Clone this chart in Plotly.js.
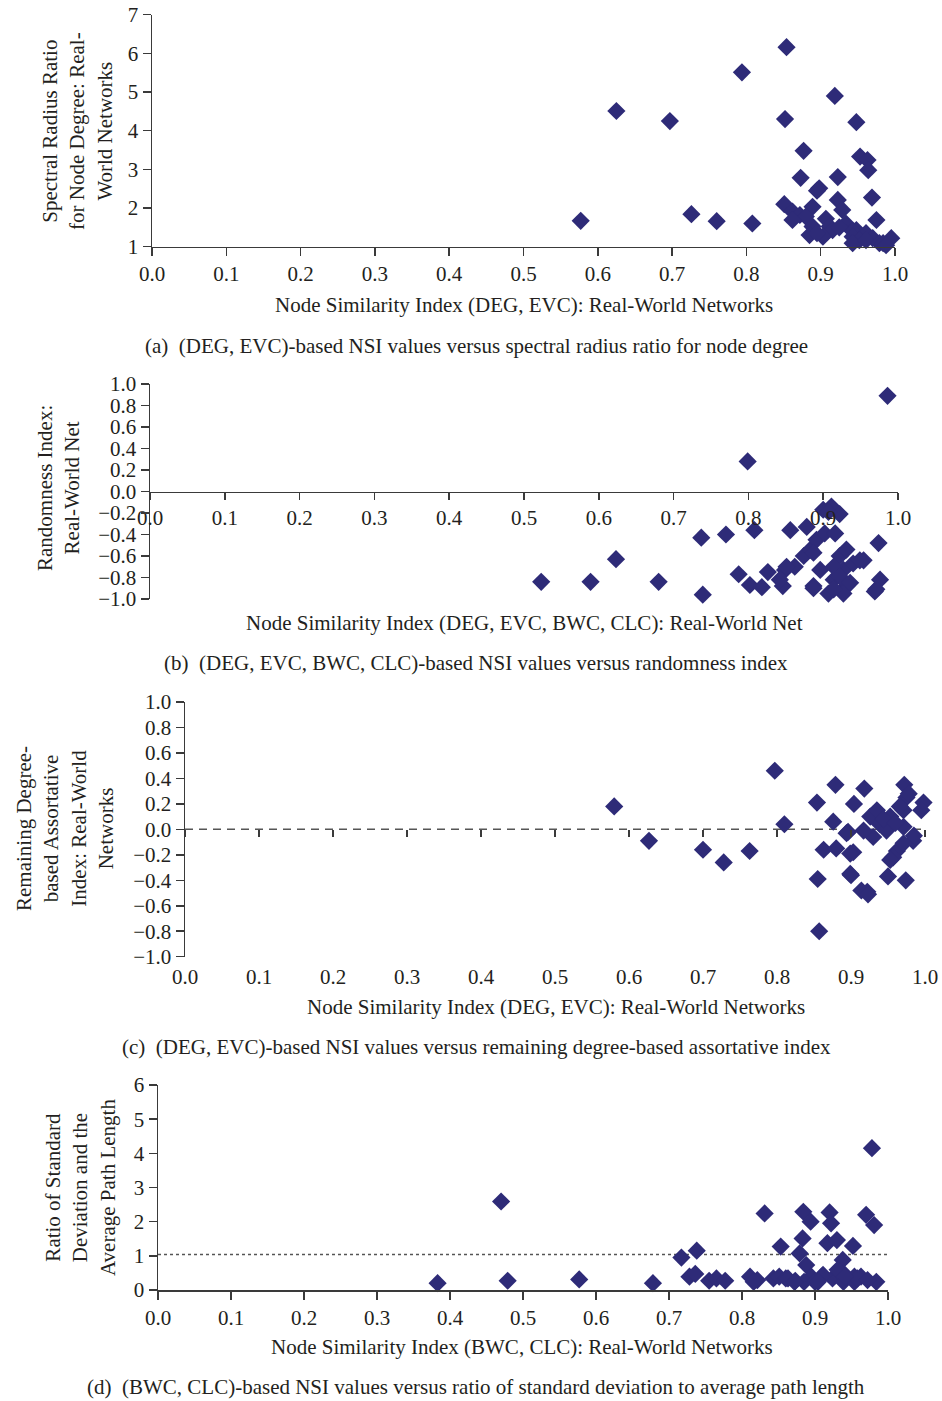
<!DOCTYPE html>
<html>
<head>
<meta charset="utf-8">
<script src="https://cdn.plot.ly/plotly-3.0.1.min.js"></script>
<style>html,body{margin:0;padding:0;background:#fff;}#chart{width:942px;height:1401px;}</style>
</head>
<body>
<div id="chart"></div>
<script>
// ---------- DATA ----------
// (a) NSI (DEG, EVC) vs spectral radius ratio for node degree
const nsiA = [0.577,0.625,0.697,0.726,0.760,0.808,0.794,0.854,0.852,0.919,0.948,0.877,0.953,0.963,0.964,0.873,0.923,0.898,0.895,0.969,0.923,0.851,0.889,0.929,0.862,0.872,0.880,0.907,0.975,0.934,0.862,0.889,0.912,0.916,0.948,0.943,0.885,0.903,0.943,0.961,0.952,0.970,0.943,0.961,0.979,0.984,0.995,0.988,0.895,0.925];
const spectralA = [1.67,4.51,4.25,1.84,1.66,1.60,5.51,6.16,4.30,4.90,4.22,3.48,3.33,3.24,2.98,2.78,2.80,2.51,2.45,2.27,2.21,2.10,2.03,1.95,1.91,1.82,1.78,1.72,1.69,1.60,1.69,1.52,1.52,1.43,1.43,1.40,1.30,1.26,1.26,1.35,1.17,1.22,1.09,1.17,1.09,1.09,1.22,1.04,1.35,1.50];

// (b) NSI (DEG, EVC, BWC, CLC) vs randomness index
const nsiB = [0.986,0.799,0.523,0.589,0.623,0.680,0.739,0.737,0.770,0.808,0.856,0.878,0.787,0.802,0.818,0.826,0.846,0.849,0.862,0.887,0.874,0.883,0.891,0.902,0.916,0.896,0.907,0.914,0.922,0.931,0.927,0.931,0.927,0.954,0.974,0.976,0.969,0.900,0.911,0.922,0.914,0.940,0.907,0.887,0.949,0.971,0.922,0.914,0.936,0.887,0.851,0.842];
const randomnessB = [0.89,0.28,-0.84,-0.84,-0.63,-0.84,-0.96,-0.43,-0.40,-0.36,-0.36,-0.33,-0.77,-0.87,-0.89,-0.75,-0.88,-0.73,-0.70,-0.88,-0.60,-0.54,-0.45,-0.39,-0.39,-0.73,-0.95,-0.82,-0.60,-0.54,-0.73,-0.88,-0.95,-0.64,-0.48,-0.82,-0.93,-0.17,-0.14,-0.21,-0.70,-0.67,-0.19,-0.57,-0.64,-0.91,-0.79,-0.91,-0.85,-0.90,-0.70,-0.82];

// (c) NSI (DEG, EVC) vs remaining degree-based assortative index
const nsiC = [0.580,0.627,0.700,0.728,0.763,0.797,0.810,0.854,0.879,0.918,0.904,0.876,0.972,0.998,0.995,0.975,0.978,0.855,0.857,0.900,0.914,0.922,0.950,0.974,0.863,0.880,0.903,0.894,0.926,0.939,0.953,0.971,0.971,0.930,0.962,0.984,0.971,0.957,0.917,0.948,0.935,0.966,0.896,0.899,0.953,0.899,0.923,0.944,0.960,0.985];
const assortC = [0.18,-0.09,-0.16,-0.26,-0.17,0.46,0.04,0.21,0.35,0.32,0.20,0.06,0.35,0.21,0.15,0.25,0.28,-0.39,-0.80,-0.36,-0.48,-0.49,-0.37,-0.40,-0.16,-0.15,-0.18,-0.03,0.10,0.04,0.10,0.15,0.02,-0.06,-0.17,-0.09,-0.11,-0.22,-0.01,-0.01,0.15,0.18,-0.02,-0.19,-0.24,-0.35,-0.51,0.08,0.05,-0.05];

// (d) NSI (BWC, CLC) vs ratio of std. deviation to average path length
const nsiD = [0.383,0.470,0.479,0.577,0.678,0.717,0.738,0.728,0.736,0.755,0.765,0.777,0.811,0.821,0.831,0.843,0.851,0.860,0.853,0.873,0.879,0.883,0.884,0.894,0.888,0.895,0.909,0.920,0.922,0.917,0.930,0.938,0.939,0.924,0.952,0.954,0.970,0.981,0.978,0.963,0.984,0.885,0.900,0.939,0.954,0.816,0.863,0.911,0.958,0.972,0.872,0.904,0.931,0.941];
const ratioD = [0.20,2.59,0.27,0.31,0.20,0.95,1.15,0.39,0.47,0.27,0.34,0.27,0.39,0.29,2.24,0.34,0.39,0.34,1.27,0.27,1.07,1.51,2.29,2.00,0.73,0.39,0.39,2.27,1.95,1.37,1.46,0.88,0.49,0.34,1.29,0.39,2.20,1.90,4.15,0.39,0.24,0.24,0.24,0.24,0.24,0.24,0.34,0.44,0.34,0.29,0.24,0.24,0.59,0.39];

const refLineC = 0;      // dashed reference line, panel (c)
const refLineD = 1.04;   // dotted reference line, panel (d)

const titlesY = [
  "Spectral Radius Ratio<br>for Node Degree: Real-<br>World Networks",
  "Randomness Index:<br>Real-World Net",
  "Remaining Degree-<br>based Assortative<br>Index: Real-World<br>Networks",
  "Ratio of Standard<br>Deviation and the<br>Average Path Length"
];
const titlesX = [
  "Node Similarity Index (DEG, EVC): Real-World Networks",
  "Node Similarity Index (DEG, EVC, BWC, CLC): Real-World Net",
  "Node Similarity Index (DEG, EVC): Real-World Networks",
  "Node Similarity Index (BWC, CLC): Real-World Networks"
];
const captions = [
  "(a)  (DEG, EVC)-based NSI values versus spectral radius ratio for node degree",
  "(b)  (DEG, EVC, BWC, CLC)-based NSI values versus randomness index",
  "(c)  (DEG, EVC)-based NSI values versus remaining degree-based assortative index",
  "(d)  (BWC, CLC)-based NSI values versus ratio of standard deviation to average path length"
];

// ---------- LAYOUT HELPERS ----------
const W = 942, H = 1401;
const fx = p => p / W;
const fy = p => 1 - p / H;
const FONT = 'Liberation Serif, Times New Roman, serif';
const FS = 21;
const TXT = '#231f20';
const AX = '#3a3a3a';
const MARK = '#2e2b78';

const marker = {symbol: 'diamond', size: 14, color: MARK, line: {width: 0}};
function tr(x, y, xa, ya) {
  return {type: 'scatter', mode: 'markers', x: x, y: y, xaxis: xa, yaxis: ya,
          marker: marker, cliponaxis: false, hoverinfo: 'x+y', showlegend: false};
}

const data = [
  tr(nsiA, spectralA, 'x', 'y'),
  tr(nsiB, randomnessB, 'x2', 'y2'),
  tr(nsiC, assortC, 'x3', 'y3'),
  tr(nsiD, ratioD, 'x4', 'y4'),
  {type: 'scatter', mode: 'markers', x: [], y: [], xaxis: 'x5', yaxis: 'y3', showlegend: false}
];

const tickFont = {family: FONT, size: FS, color: TXT};
function xax(dom, extra) {
  return Object.assign({domain: [fx(dom[0]), fx(dom[1])], range: [0, 1], dtick: 0.1, tick0: 0,
    tickformat: '.1f', showgrid: false, zeroline: false, showline: true, linecolor: AX, linewidth: 1.5,
    ticks: 'outside', ticklen: 8, tickwidth: 1.5, tickcolor: AX, tickfont: tickFont, fixedrange: true}, extra || {});
}
function yax(dom, range, dtick, fmt, extra) {
  return Object.assign({domain: [fy(dom[1]), fy(dom[0])], range: range, dtick: dtick, tick0: range[0],
    tickformat: fmt, showgrid: false, zeroline: false, showline: true, linecolor: AX, linewidth: 1.5,
    ticks: 'outside', ticklen: 8, tickwidth: 1.5, tickcolor: AX, tickfont: tickFont, fixedrange: true}, extra || {});
}

// pixel boxes [x0, x1] and [yTop, yBottom]
const boxA = {x: [152, 895], y: [14.7, 246.7]};
const boxB = {x: [150, 898], y: [384, 599]};
const boxC = {x: [185, 925], y: [702, 956.7]};
const boxD = {x: [158, 888], y: [1085, 1290]};

const layout = {
  width: W, height: H,
  margin: {l: 0, r: 0, t: 0, b: 0},
  paper_bgcolor: '#fff', plot_bgcolor: 'rgba(0,0,0,0)',
  font: {family: FONT, size: FS, color: TXT},
  showlegend: false,
  xaxis: xax(boxA.x, {anchor: 'y'}),
  yaxis: yax(boxA.y, [1, 7], 1, 'd', {anchor: 'x'}),
  xaxis2: xax(boxB.x, {anchor: 'free', position: fy((boxB.y[0] + boxB.y[1]) / 2), ticklen: 7}),
  yaxis2: yax(boxB.y, [-1, 1], 0.2, '.1f', {anchor: 'x2'}),
  xaxis3: xax(boxC.x, {anchor: 'y3', showline: false, tickcolor: 'rgba(0,0,0,0)', ticklen: 1}),
  yaxis3: yax(boxC.y, [-1, 1], 0.2, '.1f', {anchor: 'x3'}),
  xaxis5: xax(boxC.x, {overlaying: 'x3', anchor: 'free', position: fy((boxC.y[0] + boxC.y[1]) / 2),
    showline: false, showticklabels: false, ticklen: 7}),
  xaxis4: xax(boxD.x, {anchor: 'y4'}),
  yaxis4: yax(boxD.y, [0, 6], 1, 'd', {anchor: 'x4'}),
  shapes: [
    {type: 'line', xref: 'x3', yref: 'y3', x0: 0, x1: 1, y0: refLineC, y1: refLineC, layer: 'below',
     line: {color: '#555', width: 1.5, dash: '8px,6px'}},
    {type: 'line', xref: 'x4', yref: 'y4', x0: 0, x1: 1, y0: refLineD, y1: refLineD, layer: 'below',
     line: {color: '#555', width: 1.5, dash: 'dot'}}
  ],
  annotations: []
};

function ann(text, px, py, angle) {
  layout.annotations.push({text: text, xref: 'paper', yref: 'paper', x: fx(px), y: fy(py),
    xanchor: 'center', yanchor: 'middle', showarrow: false, textangle: angle || 0,
    font: {family: FONT, size: FS, color: TXT}, align: 'center'});
}
// y titles
ann(titlesY[0], 77, 131, -90);
ann(titlesY[1], 58, 488, -90);
ann(titlesY[2], 65, 829, -90);
ann(titlesY[3], 80, 1188, -90);
// x titles
ann(titlesX[0], 524, 305);
ann(titlesX[1], 524, 623);
ann(titlesX[2], 556, 1007);
ann(titlesX[3], 522, 1347);
// captions
ann(captions[0], 476, 346);
ann(captions[1], 476, 663);
ann(captions[2], 476, 1047);
ann(captions[3], 476, 1387);

Plotly.newPlot('chart', data, layout, {displayModeBar: false, staticPlot: true});
</script>
</body>
</html>
